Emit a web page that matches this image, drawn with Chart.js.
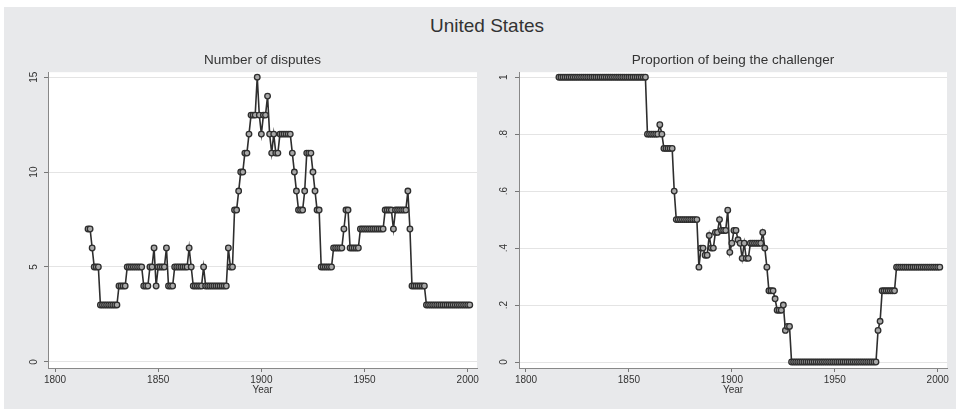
<!DOCTYPE html>
<html>
<head>
<meta charset="utf-8">
<title>United States</title>
<script src="https://cdn.jsdelivr.net/npm/chart.js@4.4.1/dist/chart.umd.min.js"></script>
<style>
  html, body { margin: 0; padding: 0; background: #fff; }
  #wrap { position: relative; width: 959px; height: 412px; overflow: hidden; background: #fff; }
  #panel { position: absolute; left: 4px; top: 7px; width: 952px; height: 402px; background: #e8e9eb; }
  #maintitle {
    position: absolute; left: 387px; top: 15px; width: 200px; text-align: center;
    font: 19px "Liberation Sans", Arial, sans-serif; color: #333;
  }
  canvas { position: absolute; }
  #c1 { left: 3px; top: 40px; }
  #c2 { left: 474px; top: 40px; }
</style>
</head>
<body>
<div id="wrap">
  <div id="panel"></div>
  <div id="maintitle">United States</div>
  <canvas id="c1" width="482" height="365"></canvas>
  <canvas id="c2" width="482" height="365"></canvas>
</div>
<script>
// one row = ten years, starting 1816
const years = [
    1816, 1817, 1818, 1819, 1820, 1821, 1822, 1823, 1824, 1825,
    1826, 1827, 1828, 1829, 1830, 1831, 1832, 1833, 1834, 1835,
    1836, 1837, 1838, 1839, 1840, 1841, 1842, 1843, 1844, 1845,
    1846, 1847, 1848, 1849, 1850, 1851, 1852, 1853, 1854, 1855,
    1856, 1857, 1858, 1859, 1860, 1861, 1862, 1863, 1864, 1865,
    1866, 1867, 1868, 1869, 1870, 1871, 1872, 1873, 1874, 1875,
    1876, 1877, 1878, 1879, 1880, 1881, 1882, 1883, 1884, 1885,
    1886, 1887, 1888, 1889, 1890, 1891, 1892, 1893, 1894, 1895,
    1896, 1897, 1898, 1899, 1900, 1901, 1902, 1903, 1904, 1905,
    1906, 1907, 1908, 1909, 1910, 1911, 1912, 1913, 1914, 1915,
    1916, 1917, 1918, 1919, 1920, 1921, 1922, 1923, 1924, 1925,
    1926, 1927, 1928, 1929, 1930, 1931, 1932, 1933, 1934, 1935,
    1936, 1937, 1938, 1939, 1940, 1941, 1942, 1943, 1944, 1945,
    1946, 1947, 1948, 1949, 1950, 1951, 1952, 1953, 1954, 1955,
    1956, 1957, 1958, 1959, 1960, 1961, 1962, 1963, 1964, 1965,
    1966, 1967, 1968, 1969, 1970, 1971, 1972, 1973, 1974, 1975,
    1976, 1977, 1978, 1979, 1980, 1981, 1982, 1983, 1984, 1985,
    1986, 1987, 1988, 1989, 1990, 1991, 1992, 1993, 1994, 1995,
    1996, 1997, 1998, 1999, 2000, 2001
];

const disputes = [
    7, 7, 6, 5, 5, 5, 3, 3, 3, 3,
    3, 3, 3, 3, 3, 4, 4, 4, 4, 5,
    5, 5, 5, 5, 5, 5, 5, 4, 4, 4,
    5, 5, 6, 4, 5, 5, 5, 5, 6, 4,
    4, 4, 5, 5, 5, 5, 5, 5, 5, 6,
    5, 4, 4, 4, 4, 4, 5, 4, 4, 4,
    4, 4, 4, 4, 4, 4, 4, 4, 6, 5,
    5, 8, 8, 9, 10, 10, 11, 11, 12, 13,
    13, 13, 15, 13, 12, 13, 13, 14, 12, 11,
    12, 11, 11, 12, 12, 12, 12, 12, 12, 11,
    10, 9, 8, 8, 8, 9, 11, 11, 11, 10,
    9, 8, 8, 5, 5, 5, 5, 5, 5, 6,
    6, 6, 6, 6, 7, 8, 8, 6, 6, 6,
    6, 6, 7, 7, 7, 7, 7, 7, 7, 7,
    7, 7, 7, 7, 8, 8, 8, 8, 7, 8,
    8, 8, 8, 8, 8, 9, 7, 4, 4, 4,
    4, 4, 4, 4, 3, 3, 3, 3, 3, 3,
    3, 3, 3, 3, 3, 3, 3, 3, 3, 3,
    3, 3, 3, 3, 3, 3
];

const challengerShare = [
    1, 1, 1, 1, 1, 1, 1, 1, 1, 1,
    1, 1, 1, 1, 1, 1, 1, 1, 1, 1,
    1, 1, 1, 1, 1, 1, 1, 1, 1, 1,
    1, 1, 1, 1, 1, 1, 1, 1, 1, 1,
    1, 1, 1, .8, .8, .8, .8, .8, .8, .833,
    .8, .75, .75, .75, .75, .75, .6, .5, .5, .5,
    .5, .5, .5, .5, .5, .5, .5, .5, .333, .4,
    .4, .375, .375, .444, .4, .4, .455, .455, .5, .462,
    .462, .462, .533, .385, .417, .462, .462, .429, .417, .364,
    .417, .364, .364, .417, .417, .417, .417, .417, .417, .455,
    .4, .333, .25, .25, .25, .222, .182, .182, .182, .2,
    .111, .125, .125, 0, 0, 0, 0, 0, 0, 0,
    0, 0, 0, 0, 0, 0, 0, 0, 0, 0,
    0, 0, 0, 0, 0, 0, 0, 0, 0, 0,
    0, 0, 0, 0, 0, 0, 0, 0, 0, 0,
    0, 0, 0, 0, 0, .111, .143, .25, .25, .25,
    .25, .25, .25, .25, .333, .333, .333, .333, .333, .333,
    .333, .333, .333, .333, .333, .333, .333, .333, .333, .333,
    .333, .333, .333, .333, .333, .333
];

const xTicks = [1800, 1850, 1900, 1950, 2000];
const leftTicks = [0, 5, 10, 15];
const rightTicks = [0, 0.2, 0.4, 0.6, 0.8, 1];
const rightTickLabels = ['0', '.2', '.4', '.6', '.8', '1'];

const FONT = '"Liberation Sans", Arial, sans-serif';
const TEXT = '#333';

// white plot region on the grey graph background
const plotBg = {
    id: 'plotBg',
    beforeDraw(chart) {
        const { ctx, chartArea: a } = chart;
        ctx.save();
        ctx.fillStyle = '#fff';
        ctx.fillRect(a.left, a.top, a.right - a.left, a.bottom - a.top);
        ctx.restore();
    }
};

function makePanel(canvasId, title, values, yMin, yMax, yTicks, yLabel, padRight, labelPad) {
    const ctx = document.getElementById(canvasId).getContext('2d');
    return new Chart(ctx, {
        type: 'line',
        data: {
            datasets: [{
                data: years.map((yr, i) => ({ x: yr, y: values[i] })),
                borderColor: '#2e2e2e',
                borderWidth: 1.6,
                pointRadius: 2.8,
                pointBorderWidth: 1.3,
                pointBorderColor: '#2e2e2e',
                pointBackgroundColor: '#a8a8a8',
                tension: 0,
                fill: false
            }]
        },
        options: {
            responsive: false,
            animation: false,
            layout: { padding: { left: 0, right: padRight, top: 0, bottom: 0 } },
            plugins: {
                legend: { display: false },
                tooltip: { enabled: false },
                title: {
                    display: true,
                    text: title,
                    fullSize: false,
                    color: TEXT,
                    font: { family: FONT, size: 13.5, weight: 'normal' },
                    padding: { top: 12, bottom: 4 }
                }
            },
            scales: {
                x: {
                    type: 'linear',
                    min: 1796.6,
                    max: 2004.5,
                    afterBuildTicks: s => { s.ticks = xTicks.map(v => ({ value: v })); },
                    afterFit: s => { s.height = 37; },
                    grid: { drawOnChartArea: false, drawTicks: true, tickLength: 4, tickColor: '#777' },
                    border: { display: true, color: '#888', width: 1 },
                    ticks: {
                        color: TEXT,
                        font: { family: FONT, size: 10 },
                        padding: 2,
                        maxRotation: 0,
                        callback: v => String(v)
                    },
                    title: {
                        display: true,
                        text: 'Year',
                        color: TEXT,
                        font: { family: FONT, size: 10 },
                        padding: { top: 0, bottom: 9 }
                    }
                },
                y: {
                    type: 'linear',
                    min: yMin,
                    max: yMax,
                    afterBuildTicks: s => { s.ticks = yTicks.map(v => ({ value: v })); },
                    afterFit: s => { s.width = 45; },
                    grid: { color: '#e4e4e4', lineWidth: 1, drawTicks: true, tickLength: 4, tickColor: '#777' },
                    border: { display: true, color: '#888', width: 1 },
                    ticks: {
                        color: TEXT,
                        font: { family: FONT, size: 10 },
                        padding: labelPad,
                        minRotation: 90,
                        maxRotation: 90,
                        crossAlign: 'center',
                        callback: v => yLabel(v)
                    }
                }
            }
        },
        plugins: [plotBg]
    });
}

makePanel('c1', 'Number of disputes', disputes, -0.32, 15.26, leftTicks,
    v => String(v), 8, 4);

makePanel('c2', 'Proportion of being the challenger', challengerShare, -0.021, 1.0175, rightTicks,
    v => rightTickLabels[rightTicks.indexOf(v)] ?? String(v), 9, 7);
</script>
</body>
</html>
